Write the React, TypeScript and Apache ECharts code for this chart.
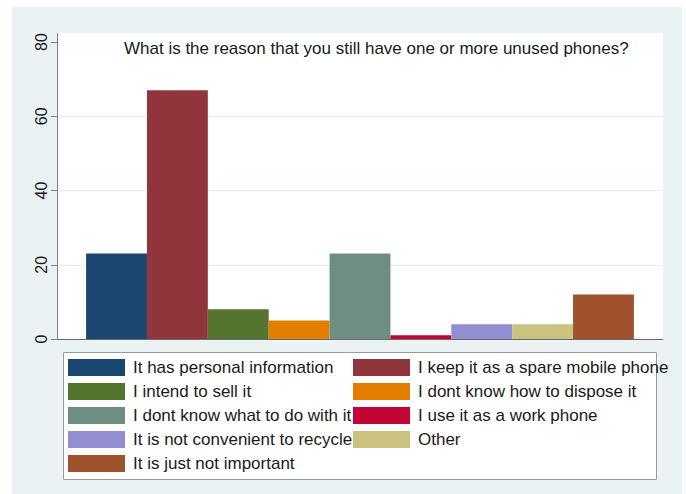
import React, { useEffect, useRef } from "react";
import * as echarts from "echarts";

const titleText = "What is the reason that you still have one or more unused phones?";
const reasons = [
  "It has personal information",
  "I keep it as a spare mobile phone",
  "I intend to sell it",
  "I dont know how to dispose it",
  "I dont know what to do with it",
  "I use it as a work phone",
  "It is not convenient to recycle",
  "Other",
  "It is just not important",
];
const counts = [23, 67, 8, 5, 23, 1, 4, 4, 12];
const barColors = [
  "#1a476f", "#90353b", "#55752f", "#e37e00", "#6e8e84",
  "#c10534", "#938dd2", "#cac27e", "#a0522d",
];
const yTicks = [0, 20, 40, 60, 80];

const FONT = "'Liberation Sans', Arial, Helvetica, sans-serif";

export default function App() {
  const ref = useRef<HTMLDivElement>(null);
  useEffect(() => {
    if (!ref.current) return;
    const chart = echarts.init(ref.current, undefined, { renderer: "svg" });
    const gridColor = "#e4eef0";
    const legendText = { fontSize: 17, color: "#1a1a1a", fontFamily: FONT, padding: [0, 0, 0, 3], lineHeight: 17 };
    const col1 = reasons.filter((_, i) => i % 2 === 0);
    const col2 = reasons.filter((_, i) => i % 2 === 1);
    chart.setOption({
      animation: false,
      backgroundColor: "#eaf2f3",
      color: barColors,
      title: {
        text: titleText,
        left: 112,
        top: 33,
        padding: 0,
        textStyle: { fontSize: 17, fontWeight: "normal", color: "#1a1a1a", fontFamily: FONT },
      },
      grid: {
        left: 45,
        right: 19,
        top: 35,
        bottom: 155,
        show: true,
        backgroundColor: "#ffffff",
        borderWidth: 0,
        containLabel: false,
      },
      xAxis: {
        type: "category",
        data: [""],
        axisLine: { show: true, lineStyle: { color: "#6a6a6a", width: 1 } },
        axisTick: { show: false },
        axisLabel: { show: false },
        splitLine: { show: false },
      },
      yAxis: {
        type: "value",
        min: yTicks[0],
        max: yTicks[yTicks.length - 1],
        interval: 20,
        axisLine: { show: true, lineStyle: { color: "#808080", width: 1 } },
        axisTick: { show: true, length: 6, lineStyle: { color: "#808080" } },
        axisLabel: {
          rotate: 90,
          margin: 8,
          fontSize: 16,
          color: "#1a1a1a",
          fontFamily: FONT,
        },
        splitLine: {
          show: true,
          lineStyle: { color: ["rgba(0,0,0,0)", gridColor, gridColor, gridColor, "rgba(0,0,0,0)"], width: 1 },
        },
      },
      legend: [
        {
          data: col1,
          orient: "vertical",
          left: 56,
          top: 352,
          padding: 0,
          icon: "rect",
          itemWidth: 57,
          itemHeight: 17,
          itemGap: 7,
          textStyle: legendText,
          selectedMode: false,
        },
        {
          data: col2,
          orient: "vertical",
          left: 341,
          top: 352,
          padding: 0,
          icon: "rect",
          itemWidth: 57,
          itemHeight: 17,
          itemGap: 7,
          textStyle: legendText,
          selectedMode: false,
        },
      ],
      graphic: [
        { type: "rect", shape: { x: 45, y: 26, width: 606, height: 10 }, style: { fill: "#ffffff" }, z: 0, silent: true },
        { type: "line", shape: { x1: 45.5, y1: 26, x2: 45.5, y2: 36 }, style: { stroke: "#808080", lineWidth: 1 }, z: 1, silent: true },
        {
          type: "rect",
          shape: { x: 51.5, y: 345.5, width: 593, height: 127 },
          style: { fill: "#ffffff", stroke: "#999999", lineWidth: 1 },
          z: 0,
          silent: true,
        },
      ],
      series: reasons.map((name, i) => ({
        name,
        type: "bar",
        data: [counts[i]],
        barGap: "0%",
        barCategoryGap: "9.6%",
        itemStyle: { color: barColors[i] },
      })),
    });
    return () => chart.dispose();
  }, []);
  return (
    <div
      ref={ref}
      style={{ position: "absolute", left: 12, top: 7, width: 670, height: 487 }}
    />
  );
}
